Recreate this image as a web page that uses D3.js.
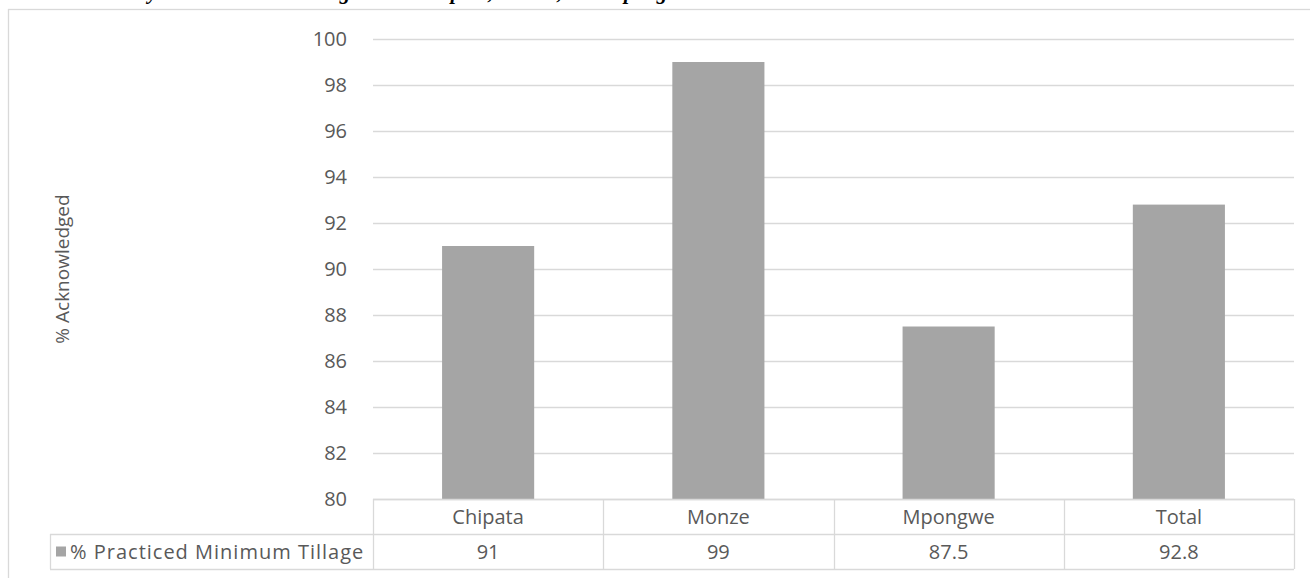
<!DOCTYPE html>
<html>
<head>
<meta charset="utf-8">
<script src="https://cdn.jsdelivr.net/npm/d3@7/dist/d3.min.js"></script>
<style>
  html, body { margin: 0; padding: 0; background: #fff; }
  svg { display: block; }
</style>
</head>
<body>
<svg id="chart" width="1310" height="578"></svg>
<script>
// Districts and share of households that practiced minimum tillage
const categories = ["Chipata", "Monze", "Mpongwe", "Total"];
const values = [91, 99, 87.5, 92.8];
const valueLabels = ["91", "99", "87.5", "92.8"];
const seriesName = "% Practiced Minimum Tillage";
const yTicks = [80, 82, 84, 86, 88, 90, 92, 94, 96, 98, 100];
const yTitle = "% Acknowledged";
const caption = "Householders by area who acknowledged this: Chipata, Monze, and Mpongwe";

const W = 1310, H = 578;
const plot = { left: 373, right: 1294, top: 39, bottom: 499 };
const rowH = 35;
const legendLeft = 50;
const font = "'Open Sans', sans-serif";
const textColor = "#595959";
const gridColor = "#d9d9d9";
const barColor = "#a5a5a5";

const svg = d3.select("#chart");

svg.append("rect").attr("width", W).attr("height", H).attr("fill", "#fff");

// caption running above the chart frame (only its lower edge is in view)
svg.append("text")
  .attr("x", 12).attr("y", -1)
  .attr("font-family", "'Liberation Serif', serif")
  .attr("font-style", "italic").attr("font-weight", "bold")
  .attr("font-size", 21)
  .attr("fill", "#000")
  .text(caption);

// chart frame
svg.append("rect")
  .attr("x", 8.5).attr("y", 9.5)
  .attr("width", W + 20).attr("height", H + 20)
  .attr("fill", "none").attr("stroke", gridColor).attr("stroke-width", 1.3);

const x = d3.scaleBand().domain(categories)
  .range([plot.left, plot.right]).paddingInner(0.6).paddingOuter(0.3);
const y = d3.scaleLinear().domain([80, 100]).range([plot.bottom, plot.top]);

// horizontal gridlines
svg.append("g").selectAll("line").data(yTicks).join("line")
  .attr("x1", plot.left).attr("x2", plot.right)
  .attr("y1", d => Math.round(y(d)) + 0.5).attr("y2", d => Math.round(y(d)) + 0.5)
  .attr("stroke", gridColor).attr("stroke-width", 1.3);

// value axis labels
const yAxis = d3.axisLeft(y).tickValues(yTicks).tickSize(0).tickPadding(26);
const yg = svg.append("g").attr("transform", `translate(${plot.left},0)`).call(yAxis);
yg.select(".domain").remove();
yg.selectAll("text")
  .attr("font-family", font).attr("font-size", 20).attr("fill", textColor);

// bars
svg.append("g").selectAll("rect").data(categories).join("rect")
  .attr("x", d => x(d))
  .attr("width", x.bandwidth())
  .attr("y", (d, i) => y(values[i]))
  .attr("height", (d, i) => y(80) - y(values[i]))
  .attr("fill", barColor);

// data table beneath the plot
const step = x.step();
const colEdges = categories.map((d, i) => plot.left + i * step).concat([plot.right]);
const tbl = svg.append("g").attr("stroke", gridColor).attr("stroke-width", 1.3).attr("fill", "none");
const r0 = plot.bottom, r1 = plot.bottom + rowH, r2 = plot.bottom + 2 * rowH;
tbl.append("line").attr("x1", plot.left).attr("x2", plot.right).attr("y1", r0 + 0.5).attr("y2", r0 + 0.5);
tbl.append("line").attr("x1", legendLeft).attr("x2", plot.right).attr("y1", r1 + 0.5).attr("y2", r1 + 0.5);
tbl.append("line").attr("x1", legendLeft).attr("x2", plot.right).attr("y1", r2 + 0.5).attr("y2", r2 + 0.5);
tbl.append("line").attr("x1", legendLeft + 0.5).attr("x2", legendLeft + 0.5).attr("y1", r1).attr("y2", r2);
colEdges.forEach(cx => {
  tbl.append("line").attr("x1", Math.round(cx) + 0.5).attr("x2", Math.round(cx) + 0.5).attr("y1", r0).attr("y2", r2);
});

svg.append("g").selectAll("text").data(categories).join("text")
  .attr("x", d => x(d) + x.bandwidth() / 2)
  .attr("y", r0 + rowH / 2)
  .attr("dy", "0.35em")
  .attr("text-anchor", "middle")
  .attr("font-family", font).attr("font-size", 20).attr("fill", textColor)
  .text(d => d);

svg.append("g").selectAll("text").data(categories).join("text")
  .attr("x", d => x(d) + x.bandwidth() / 2)
  .attr("y", r1 + rowH / 2)
  .attr("dy", "0.35em")
  .attr("text-anchor", "middle")
  .attr("font-family", font).attr("font-size", 20).attr("fill", textColor)
  .text((d, i) => valueLabels[i]);

// legend key in the table
svg.append("rect")
  .attr("x", legendLeft + 6).attr("y", r1 + rowH / 2 - 5)
  .attr("width", 10).attr("height", 10).attr("fill", barColor);
svg.append("text")
  .attr("x", legendLeft + 20).attr("y", r1 + rowH / 2).attr("dy", "0.35em")
  .attr("font-family", font).attr("font-size", 20).attr("fill", textColor)
  .attr("letter-spacing", 1)
  .text(seriesName);

// value axis title
svg.append("text")
  .attr("transform", `translate(62,${(plot.top + plot.bottom) / 2}) rotate(-90)`)
  .attr("text-anchor", "middle").attr("dy", "0.35em")
  .attr("font-family", font).attr("font-size", 19).attr("fill", textColor)
  .text(yTitle);
</script>
</body>
</html>
